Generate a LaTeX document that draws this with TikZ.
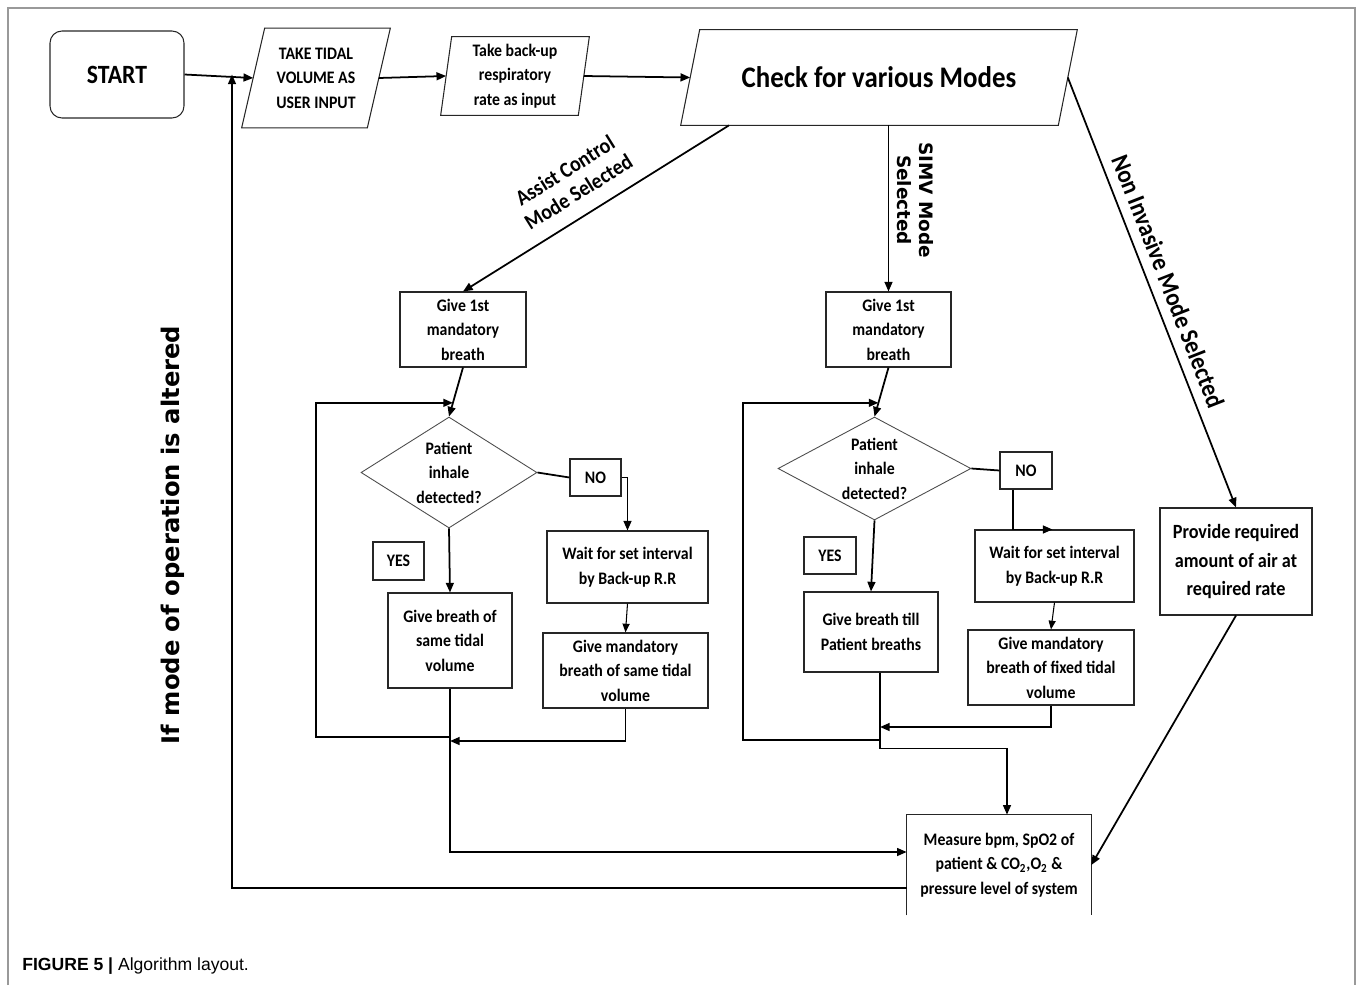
\documentclass[tikz,border=0pt]{standalone}
\usepackage{fontspec}
\setmainfont{Carlito}[FakeStretch=0.9]
\newfontfamily\verdfont{DejaVu Sans}
\newfontfamily\capfont{Liberation Sans}
\usetikzlibrary{arrows.meta,shapes.geometric,calc}

\begin{document}
\begin{tikzpicture}[x=0.02cm, y=-0.02cm,
    txt/.style={font=\fontsize{10}{14}\selectfont\bfseries, align=center},
    box/.style={txt, draw=black!85, line width=0.6pt, inner sep=0pt},
    para/.style={txt, inner sep=0pt},
    outline/.style={draw=black!85, line width=0.6pt},
    dec/.style={diamond, draw=black!70, line width=0.5pt, inner sep=0pt},
    flow/.style={line width=1pt, -{Triangle[length=5.5pt,width=4.5pt]}},
    thinflow/.style={line width=0.6pt, -{Triangle[length=5pt,width=4pt]}},
    plain/.style={line width=1pt}]
    \useasboundingbox (0,0) rectangle (1357,985);
    % Outer frame (open at the bottom)
    \draw[gray!80, line width=1.2pt] (8,985) -- (8,8) -- (1355,8) -- (1355,985);
    % Top row: start and inputs
    \node[box, rounded corners=6.8pt, minimum width=2.68cm, minimum height=1.74cm,
      font=\fontsize{15}{18}\selectfont\bfseries] (start) at (117,74.5) {START};
    \node[para, minimum width=2.5cm, minimum height=1.98cm] (tidal) at (316,78)
      {TAKE TIDAL\\VOLUME AS\\USER INPUT};
    \draw[outline] ($(tidal.south west)+(-11.5,0)$) -- ($(tidal.north west)+(11.5,0)$)
      -- ($(tidal.north east)+(11.5,0)$) -- ($(tidal.south east)+(-11.5,0)$) -- cycle;
    \node[para, minimum width=2.74cm, minimum height=1.56cm] (backup) at (515,76)
      {Take back-up\\respiratory\\rate as input};
    \draw[outline] ($(backup.south west)+(-5.5,0)$) -- ($(backup.north west)+(5.5,0)$)
      -- ($(backup.north east)+(5.5,0)$) -- ($(backup.south east)+(-5.5,0)$) -- cycle;
    \node[para, minimum width=7.54cm, minimum height=1.9cm,
      font=\fontsize{17}{20}\selectfont\bfseries] (modes) at (879,77.5)
      {Check for various Modes};
    \draw[outline] ($(modes.south west)+(-9.5,0)$) -- ($(modes.north west)+(9.5,0)$)
      -- ($(modes.north east)+(9.5,0)$) -- ($(modes.south east)+(-9.5,0)$) -- cycle;
    % Assist control branch
    \node[box, minimum width=2.52cm, minimum height=1.5cm] (give1a) at (463,329.5)
      {Give 1st\\mandatory\\breath};
    \node[dec, minimum width=3.52cm, minimum height=2.22cm,
      label={[txt, name=decalbl]center:Patient\\inhale\\detected?}] (deca) at (449,472.5) {};
    \node[box, minimum width=1.02cm, minimum height=0.74cm] (noa) at (595.5,477.5) {NO};
    \node[box, minimum width=1.02cm, minimum height=0.76cm] (yesa) at (398.5,561) {YES};
    \node[box, minimum width=2.48cm, minimum height=1.9cm] (breatha) at (450,640.5)
      {Give breath of\\same tidal\\volume};
    \node[box, minimum width=3.22cm, minimum height=1.44cm] (waita) at (627.5,567)
      {Wait for set interval\\by Back-up R.R};
    \node[box, minimum width=3.3cm, minimum height=1.5cm] (manda) at (625.5,670.5)
      {Give mandatory\\breath of same tidal\\volume};
    % SIMV branch
    \node[box, minimum width=2.5cm, minimum height=1.5cm] (give1b) at (888.5,329.5)
      {Give 1st\\mandatory\\breath};
    \node[dec, minimum width=3.86cm, minimum height=2.06cm,
      label={[txt, name=decblbl]center:Patient\\inhale\\detected?}] (decb) at (874.5,468.5) {};
    \node[box, minimum width=1.04cm, minimum height=0.74cm] (nob) at (1026,470.5) {NO};
    \node[box, minimum width=1.04cm, minimum height=0.74cm] (yesb) at (830,555.5) {YES};
    \node[box, minimum width=2.68cm, minimum height=1.6cm] (breathb) at (871,632)
      {Give breath till\\Patient breaths};
    \node[box, minimum width=3.18cm, minimum height=1.44cm] (waitb) at (1054.5,566)
      {Wait for set interval\\by Back-up R.R};
    \node[box, minimum width=3.32cm, minimum height=1.5cm] (mandb) at (1051,667.5)
      {Give mandatory\\breath of fixed tidal\\volume};
    % Non invasive branch and measurement
    \node[box, minimum width=3.04cm, minimum height=2.14cm,
      font=\fontsize{11.5}{16.4}\selectfont\bfseries] (nonbox) at (1236,561.5)
      {Provide required\\amount of air at\\required rate};
    \node[txt, minimum width=3.68cm, minimum height=2cm, inner sep=0pt] (measure) at (999,865)
      {Measure bpm, SpO2 of\\patient \& CO\textsubscript{2},O\textsubscript{2} \&\\pressure level of system};
    \draw[outline] (measure.south west) -- (measure.north west)
      -- (measure.north east) -- (measure.south east);
    % Top row arrows
    \draw[flow] (start.east) -- (tidal.west);
    \draw[flow] (tidal.east) -- (backup.west);
    \draw[flow] (backup.east) -- (modes.west);
    % Mode selection arrows
    \draw[flow] ($(modes.south)+(-150,0)$) -- node[pos=0.52, sloped, above=5pt,
      font=\fontsize{12.5}{14.5}\selectfont\bfseries, align=center] (aclbl)
      {Assist Control\\Mode Selected} (give1a.north);
    \draw[flow] (modes.south -| give1b.north) -- node[pos=0.45, sloped, above=1pt,
      font={\verdfont\bfseries\fontsize{10.5}{12.5}\selectfont}, align=center] (simvlbl)
      {SIMV Mode\\Selected} (give1b.north);
    \draw[flow] (modes.east) -- node[pos=0.49, sloped, above=2pt,
      font=\fontsize{14.5}{16}\selectfont\bfseries] (nilbl)
      {Non Invasive Mode Selected} (nonbox.north);
    % Assist control loop
    \draw[flow] (give1a.south) -- coordinate[pos=0.72] (ina) (deca.north);
    \draw[flow] (deca.south) -- (breatha.north);
    \draw[plain] (deca.east) -- (noa.west);
    \draw[flow] (noa.east) -| (waita.north);
    \draw[thinflow] (waita.south) -- (manda.north);
    \coordinate (lpa) at (316,737);
    \draw[flow] (breatha.south) |- ($(measure.west)+(0,-13)$);
    \draw[flow] (breatha.south |- lpa) -- (lpa) |- (ina);
    \draw[flow] (manda.south) |- ($(breatha.south |- lpa)+(0,4)$);
    % SIMV loop
    \draw[flow] (give1b.south) -- coordinate[pos=0.72] (inb) (decb.north);
    \draw[flow] (decb.south) -- (breathb.north);
    \draw[plain] (decb.east) -- (nob.west);
    \draw[flow] ($(nob.south)+(-13,0)$) |- ($(waitb.north)+(-2,0)$);
    \draw[thinflow] (waitb.south) -- (mandb.north);
    \coordinate (outb) at ($(breathb.south)+(9,0)$);
    \coordinate (lpb) at (743,740);
    \draw[flow] (outb) -- ++(0,76) -| ($(measure.north)+(8,0)$);
    \draw[flow] (outb |- lpb) -- (lpb) |- (inb);
    \draw[flow] (mandb.south) |- ($(outb |- lpb)+(0,-13)$);
    % Non invasive to measurement
    \draw[flow] (nonbox.south) -- (measure.east);
    % Feedback when the mode changes
    \coordinate (fb) at (232,888);
    \draw[flow] ($(measure.west)+(0,23)$) -- (fb) -- node[pos=0.434, sloped, above=23pt,
      font={\verdfont\bfseries\fontsize{13.8}{16}\selectfont}] (altlbl)
      {If mode of operation is altered} (fb |- start.east);
    % Caption
    \node[anchor=base west, inner sep=0pt, font={\capfont\fontsize{10}{12}\selectfont}] (caption)
      at (22,970) {\textbf{FIGURE 5 |} Algorithm layout.};
\end{tikzpicture}
\end{document}
